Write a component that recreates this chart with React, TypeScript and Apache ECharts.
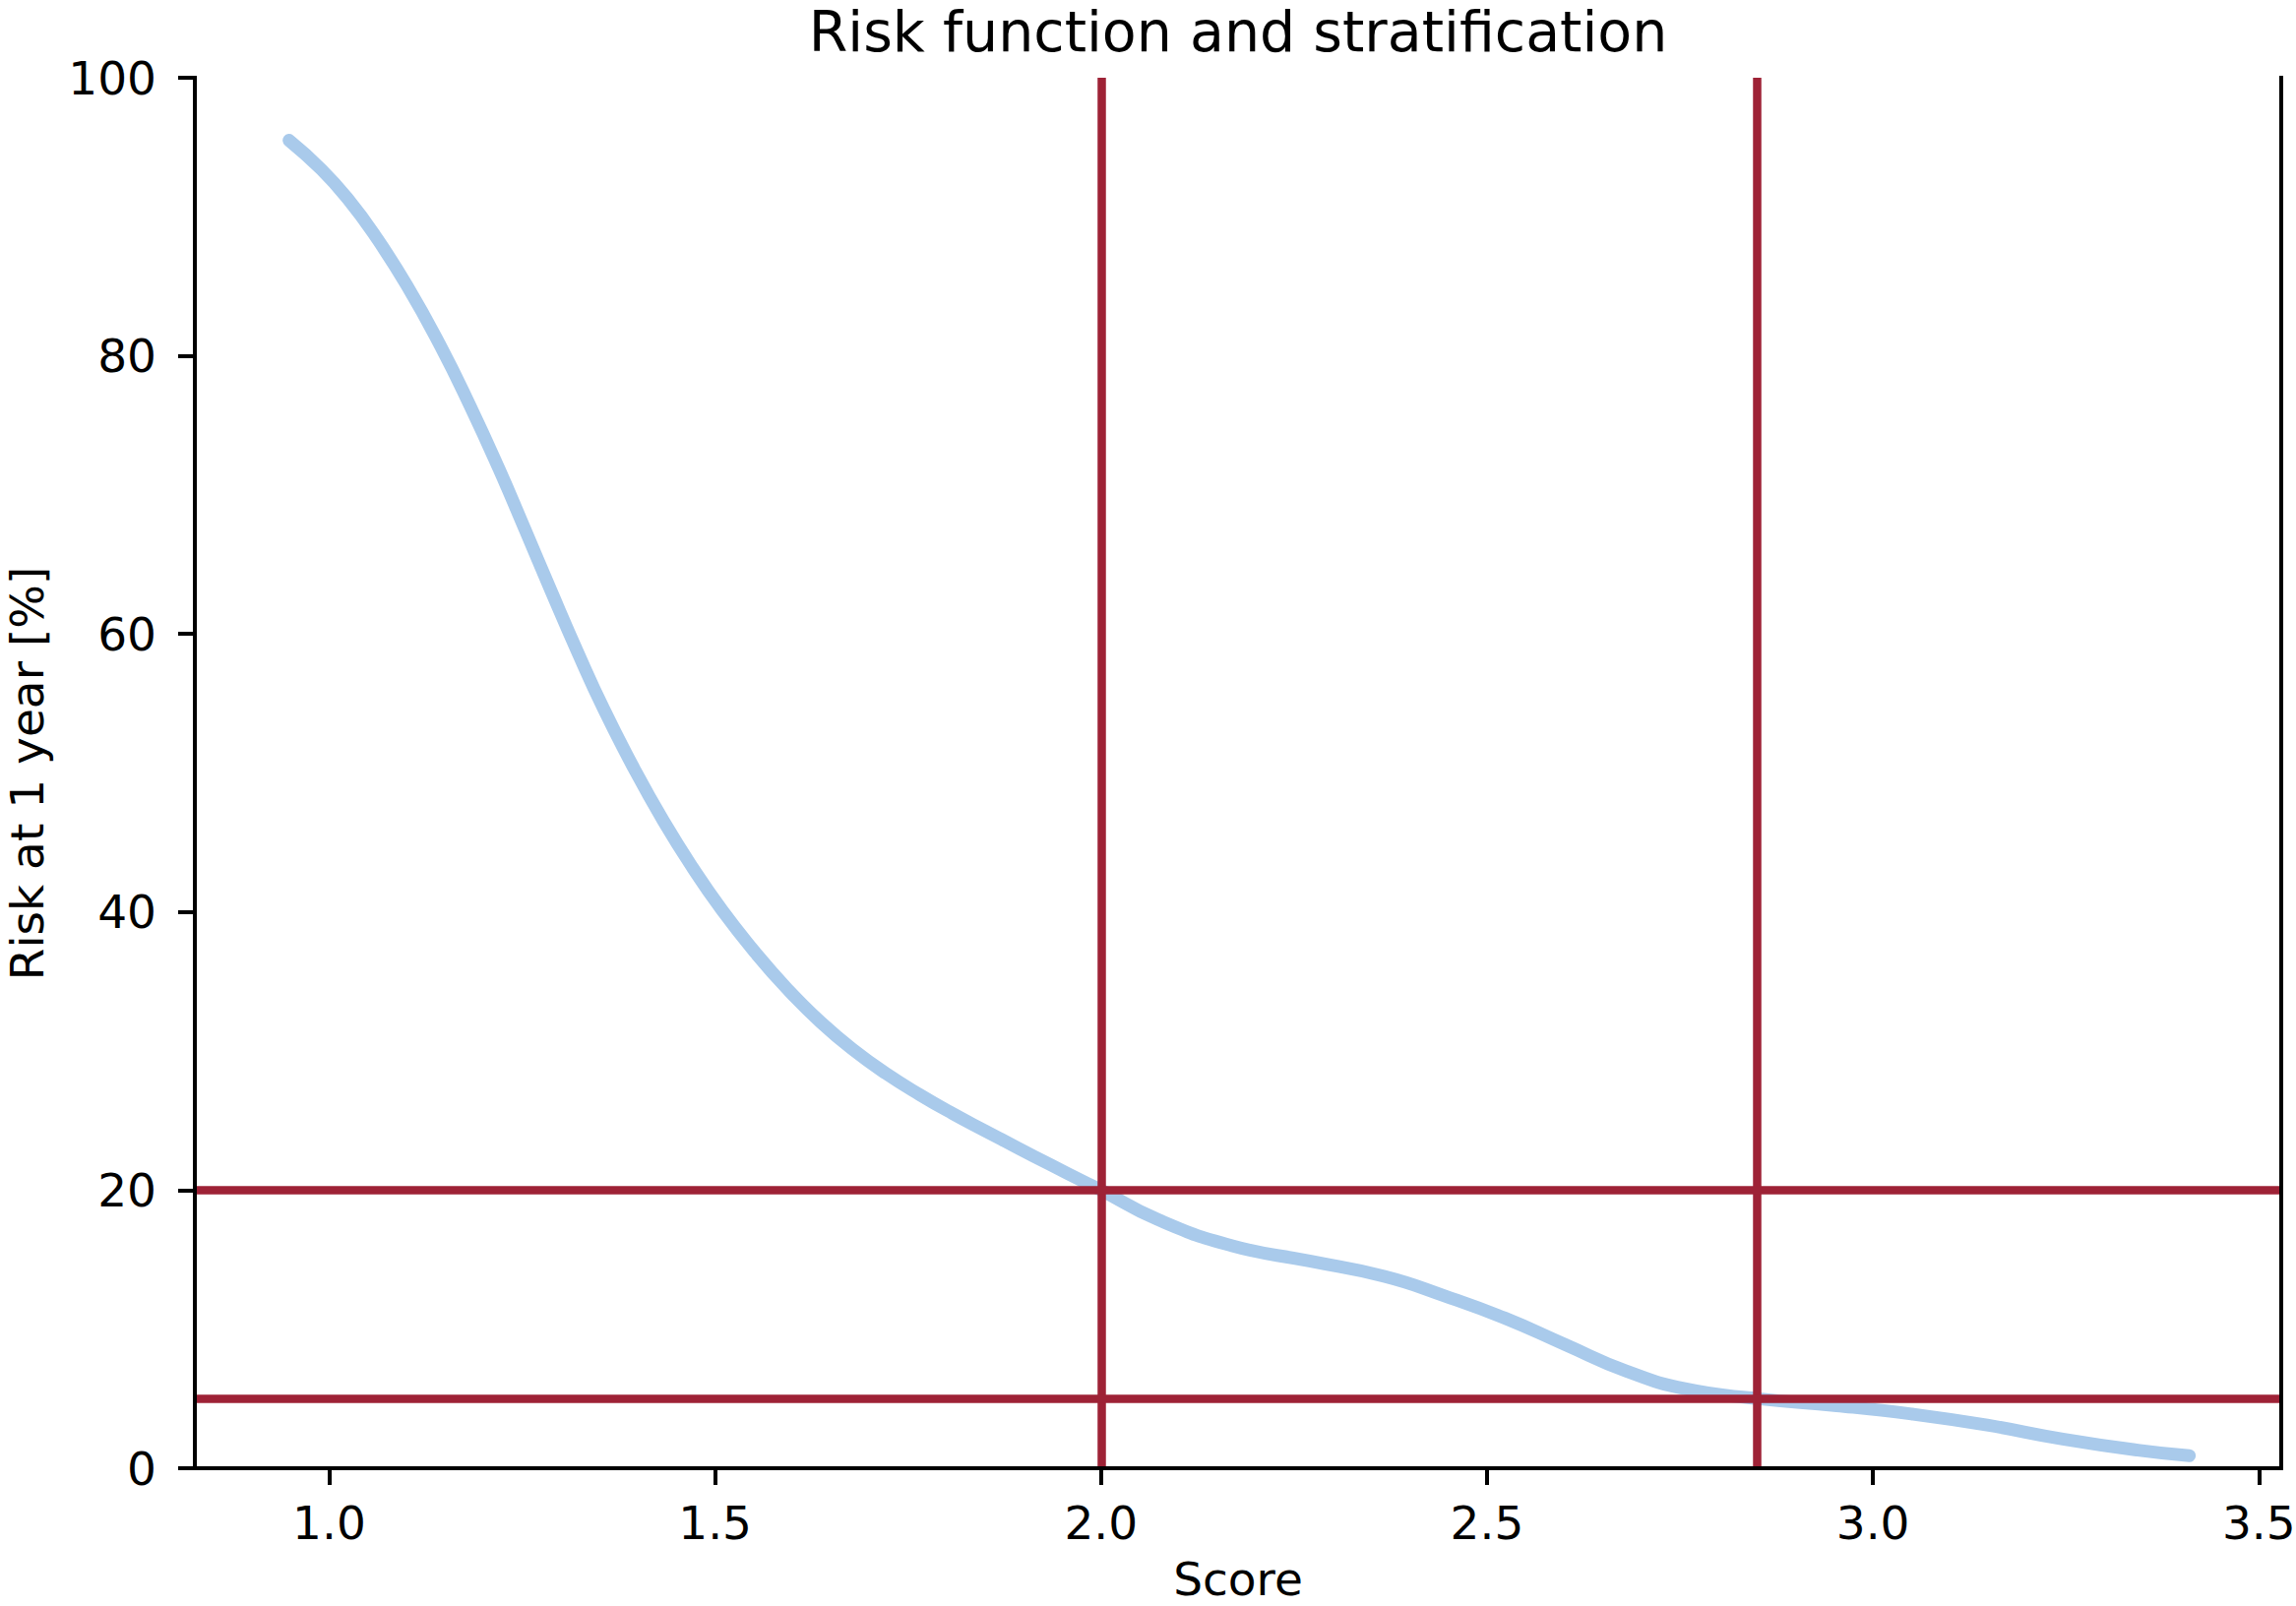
import React, { useEffect, useRef } from "react";
import * as echarts from "echarts";

// Curve (score -> risk at 1 year, %)
const scoreValues = [
  0.948, 0.99, 1.025, 1.059, 1.101, 1.144, 1.182, 1.22, 1.254, 1.288, 1.322,
  1.356, 1.395, 1.433, 1.471, 1.509, 1.552, 1.594, 1.637, 1.68, 1.722, 1.765,
  1.807, 1.85, 1.892, 1.935, 1.977, 2.0, 2.073, 2.17, 2.27, 2.367, 2.445,
  2.523, 2.601, 2.68, 2.758, 2.852, 2.953, 3.05, 3.148, 3.246, 3.343, 3.41,
];
const riskValues = [
  95.5, 93.4, 91.23, 88.68, 85.03, 80.73, 76.47, 71.87, 67.48, 63.03, 58.68,
  54.57, 50.32, 46.56, 43.18, 40.14, 37.09, 34.44, 32.07, 30.05, 28.37, 26.87,
  25.53, 24.26, 23.04, 21.81, 20.63, 20.0, 17.9, 16.0, 14.9, 13.8, 12.4,
  10.8, 8.9, 7.0, 5.7, 5.0, 4.5, 3.9, 3.1, 2.1, 1.3, 0.9,
];
const cutoffScores = [2.0, 2.85];
const cutoffRisks = [20, 5];
const xTicks = [1.0, 1.5, 2.0, 2.5, 3.0, 3.5];
const xRange = [0.826, 3.529];
const yRange = [0, 100];
const yStep = 20;

const titleText = "Risk function and stratification";
const xName = "Score";
const yName = "Risk at 1 year [%]";

const FONT = "DejaVu Sans";
const RED = "#9e2236";
const BLUE = "#a9caeb";

export default function App() {
  const ref = useRef<HTMLDivElement>(null);

  useEffect(() => {
    document.body.style.margin = "0";
    const chart = echarts.init(ref.current!, null, { renderer: "svg" });
    const axisLine = {
      show: true,
      lineStyle: { color: "#000", width: 4, cap: "square" },
    };
    const option: any = {
      animation: false,
      backgroundColor: "#ffffff",
      grid: {
        left: 198,
        right: 15,
        top: 79,
        bottom: 140,
        containLabel: false,
        outerBoundsMode: "none",
      },
      graphic: [
        {
          type: "text",
          x: 1258,
          y: 32,
          style: {
            text: titleText,
            fontFamily: FONT,
            fontSize: 57,
            lineHeight: 48,
            fill: "#000",
            textAlign: "center",
            textVerticalAlign: "middle",
          },
        },
        {
          type: "text",
          x: 1258,
          y: 1604,
          style: {
            text: xName,
            fontFamily: FONT,
            fontSize: 47,
            lineHeight: 36,
            fill: "#000",
            textAlign: "center",
            textVerticalAlign: "middle",
          },
        },
        {
          type: "text",
          x: 27,
          y: 786,
          rotation: Math.PI / 2,
          style: {
            text: yName,
            fontFamily: FONT,
            fontSize: 47,
            lineHeight: 40,
            fill: "#000",
            textAlign: "center",
            textVerticalAlign: "middle",
          },
        },
      ],
      xAxis: [
        {
          type: "value",
          min: xRange[0],
          max: xRange[1],
          position: "bottom",
          z: 10,
          axisLine,
          splitLine: { show: false },
          axisTick: {
            show: true,
            length: 17,
            customValues: xTicks,
            lineStyle: { color: "#000", width: 4 },
          },
          axisLabel: {
            customValues: xTicks,
            formatter: (v: number) => v.toFixed(1),
            fontFamily: FONT,
            fontSize: 47,
            lineHeight: 47,
            color: "#000",
            margin: 32,
          },
        },
        {
          type: "value",
          min: xRange[0],
          max: xRange[1],
          position: "top",
          z: 10,
          axisLine,
          splitLine: { show: false },
          axisTick: { show: false },
          axisLabel: { show: false },
        },
      ],
      yAxis: [
        {
          type: "value",
          min: yRange[0],
          max: yRange[1],
          interval: yStep,
          position: "left",
          z: 10,
          axisLine,
          splitLine: { show: false },
          axisTick: {
            show: true,
            length: 17,
            lineStyle: { color: "#000", width: 4 },
          },
          axisLabel: {
            fontFamily: FONT,
            fontSize: 47,
            lineHeight: 47,
            color: "#000",
            margin: 39,
          },
        },
        {
          type: "value",
          min: yRange[0],
          max: yRange[1],
          interval: yStep,
          position: "right",
          z: 10,
          axisLine,
          splitLine: { show: false },
          axisTick: { show: false },
          axisLabel: { show: false },
        },
      ],
      series: [
        {
          type: "line",
          name: "risk",
          xAxisIndex: 0,
          yAxisIndex: 0,
          z: 2,
          data: scoreValues.map((s, i) => [s, riskValues[i]]),
          showSymbol: false,
          symbol: "none",
          smooth: 0.5,
          lineStyle: { color: BLUE, width: 13, cap: "round", join: "round" },
        },
        {
          type: "line",
          name: "cutoffs",
          xAxisIndex: 0,
          yAxisIndex: 0,
          z: 3,
          data: [],
          markLine: {
            silent: true,
            symbol: ["none", "none"],
            label: { show: false },
            animation: false,
            lineStyle: { color: RED, width: 8.5, type: "solid" },
            emphasis: { disabled: true },
            data: [
              ...cutoffScores.map((x) => ({ xAxis: x })),
              ...cutoffRisks.map((y) => ({ yAxis: y })),
            ],
          },
        },
      ],
    };
    chart.setOption(option);
    return () => chart.dispose();
  }, []);

  return (
    <div
      ref={ref}
      style={{ position: "absolute", left: 0, top: 0, width: 2333, height: 1632 }}
    />
  );
}
